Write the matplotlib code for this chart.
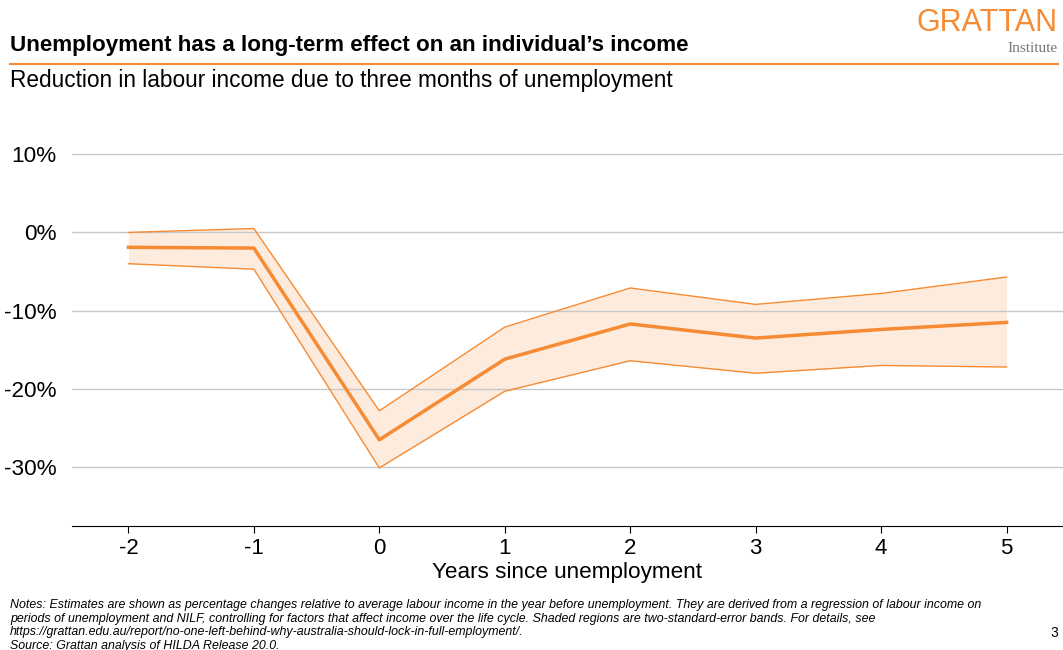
#!/usr/bin/env python3
"""
Grattan chart: labour income after three months of unemployment.
"""

import matplotlib
matplotlib.use("Agg")
import matplotlib.pyplot as plt
import numpy as np

years = [-2, -1, 0, 1, 2, 3, 4, 5]
estimate = [-1.9, -2.0, -26.5, -16.2, -11.7, -13.5, -12.4, -11.5]
upper = [0.0, 0.5, -22.8, -12.1, -7.1, -9.2, -7.8, -5.7]
lower = [-4.0, -4.7, -30.1, -20.3, -16.4, -18.0, -17.0, -17.2]
y_ticks = [10, 0, -10, -20, -30]

ORANGE = "#F68B33"
FILL = "#FDEBDD"

plt.rcParams["font.family"] = ["Liberation Sans", "DejaVu Sans"]

fig = plt.figure(figsize=(10.63, 6.5), dpi=100)
ax = fig.add_axes([0.0677, 0.191, 0.9323, 0.632])

ax.fill_between(years, lower, upper, color=FILL, lw=0, zorder=1)
ax.plot(years, upper, color=ORANGE, lw=1, zorder=2)
ax.plot(years, lower, color=ORANGE, lw=1, zorder=2)
ax.plot(years, estimate, color=ORANGE, lw=2.5, zorder=3)

ax.set_xlim(-2.45, 5.45)
ax.set_ylim(-37.5, 15)
ax.set_yticks(y_ticks)
ax.set_yticklabels([f"{t}%" for t in y_ticks], fontsize=16.2)
ax.set_xticks(years)
ax.set_xticklabels([str(y) for y in years], fontsize=16)
ax.tick_params(axis="y", length=0, pad=11)
ax.tick_params(axis="x", length=5, color="black", pad=4)
ax.grid(axis="y", color="#C8C8C8", lw=1)
for s in ["top", "right", "left"]:
    ax.spines[s].set_visible(False)
ax.spines["bottom"].set_color("black")
ax.set_xlabel("Years since unemployment", fontsize=16.2, labelpad=2)

# header
fig.text(10 / 1063, 1 - 46 / 650, "Unemployment has a long-term effect on an individual\u2019s income",
         fontsize=16.1, fontweight="bold", va="center", ha="left")
fig.add_artist(plt.Line2D([10 / 1063, 1058 / 1063], [1 - 64 / 650, 1 - 64 / 650],
                          color=ORANGE, lw=1.5))
fig.text(10 / 1063, 1 - 80 / 650, "Reduction in labour income due to three months of unemployment",
         fontsize=16.3, va="center", ha="left")

# logo
fig.text(1058 / 1063, 1 - 23 / 650, "GRATTAN", fontsize=22, color=ORANGE,
         ha="right", va="center")
fig.text(1058 / 1063, 1 - 48 / 650, "Institute", fontsize=11, color="#777777",
         family=["Liberation Serif", "DejaVu Serif"], ha="right", va="center")

notes = ("Notes: Estimates are shown as percentage changes relative to average labour income in the year before "
         "unemployment. They are derived from a regression of labour income on\n"
         "periods of unemployment and NILF, controlling for factors that affect income over the life cycle. "
         "Shaded regions are two-standard-error bands. For details, see\n"
         "https://grattan.edu.au/report/no-one-left-behind-why-australia-should-lock-in-full-employment/.\n"
         "Source: Grattan analysis of HILDA Release 20.0.")
fig.text(10 / 1063, 1 - 599 / 650, notes, fontsize=8.9, style="italic",
         ha="left", va="top", linespacing=1.17)
fig.text(1058 / 1063, 1 - 633 / 650, "3", fontsize=10, ha="right", va="center")

fig.savefig("out.png", dpi=100)
